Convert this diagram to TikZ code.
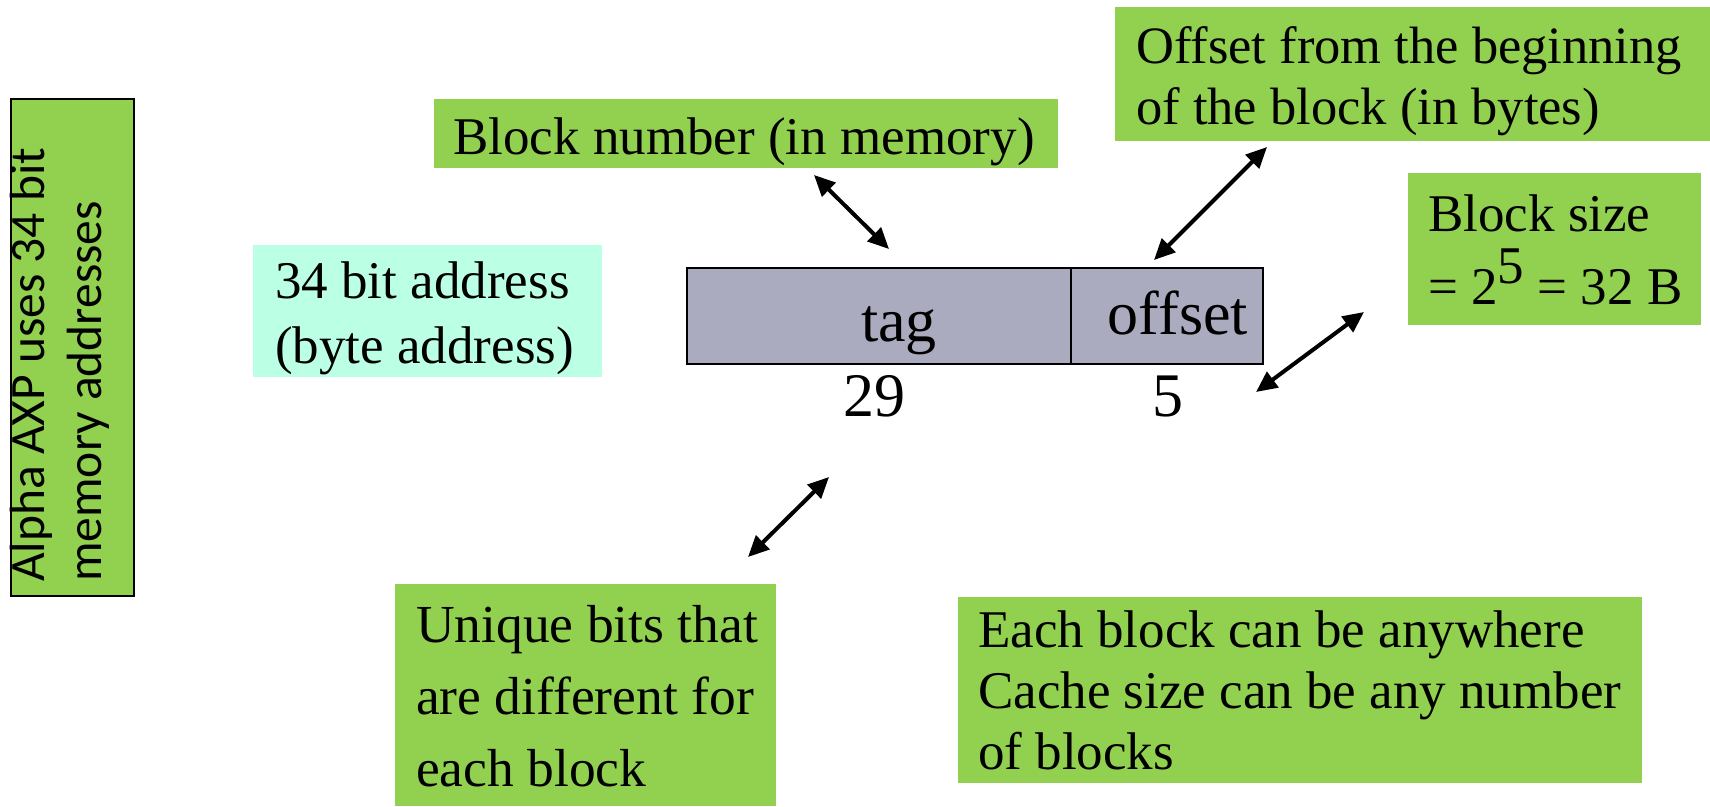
\documentclass[tikz,border=0pt]{standalone}
\usepackage{fontspec}
\setmainfont{Liberation Serif}
\newfontfamily\calibfont{Carlito}
\usetikzlibrary{arrows.meta}

\definecolor{notegreen}{RGB}{146,208,80}
\definecolor{notecyan}{RGB}{187,255,228}
\definecolor{fieldgray}{RGB}{171,171,191}

\tikzset{
  notebox/.style={fill=notegreen, draw=none, inner sep=0pt, anchor=north west},
  notetext/.style={inner sep=0pt, anchor=north west, align=left},
  field/.style={fill=fieldgray, draw=black, line width=2pt, inner sep=0pt},
  fieldtext/.style={inner sep=0pt, anchor=base, font=\fontsize{62}{70}\selectfont},
  sidetext/.style={inner sep=0pt, rotate=90, anchor=base west, font=\calibfont\fontsize{49.5}{56}\selectfont},
  dblarrow/.style={{Triangle[length=21pt,width=19pt]}-{Triangle[length=21pt,width=19pt]}, line width=4pt}
}

\begin{document}
\begin{tikzpicture}[x=1pt, y=-1pt]
\path[use as bounding box] (0,0) rectangle (1710,806);

% side note, rotated
\node[notebox, draw=black, line width=1.5pt, minimum width=123pt, minimum height=497pt] (side) at (10,98) {};
\node[sidetext] (sideA) at (44,582) {Alpha AXP uses 34 bit};
\node[sidetext] (sideB) at (101,582) {memory addresses};

% address note
\node[notebox, fill=notecyan, minimum width=349pt, minimum height=132pt] (addr) at (253,245) {};
\node[notetext, font=\fontsize{53}{65}\selectfont] (addrT) at (275,261.8) {34 bit address\\(byte address)};

% block number note
\node[notebox, minimum width=624pt, minimum height=69pt] (blknum) at (434,99) {};
\node[notetext, font=\fontsize{53}{62}\selectfont] (blknumT) at (453,117.5) {Block number (in memory)};

% offset note
\node[notebox, minimum width=595pt, minimum height=134pt] (offnote) at (1115,7) {};
\node[notetext, font=\fontsize{52.5}{61}\selectfont] (offnoteT) at (1136,26) {Offset from the beginning\\of the block (in bytes)};

% block size note
\node[notebox, minimum width=293pt, minimum height=152pt] (blksize) at (1408,173) {};
\node[notetext, font=\fontsize{53}{62}\selectfont] (blksizeT) at (1428,194.8)
  {Block size\\[11pt]= 2\raisebox{21pt}{5} = 32 B};

% address fields
\node[field, minimum width=384pt, minimum height=96pt] (tagf) at (879,316) {};
\node[field, minimum width=192pt, minimum height=96pt] (offf) at (1167,316) {};
\node[fieldtext] (tagT) at (899,341) {tag};
\node[fieldtext] (offT) at (1178,334) {offset};
\node[fieldtext] (tagN) at (874,416) {29};
\node[fieldtext] (offN) at (1168,416) {5};

% unique bits note
\node[notebox, minimum width=381pt, minimum height=222pt] (uniq) at (395,584) {};
\node[notetext, font=\fontsize{53.5}{72}\selectfont] (uniqT) at (416,605.5) {Unique bits that\\are different for\\each block};

% placement note
\node[notebox, minimum width=684pt, minimum height=186pt] (anyw) at (958,597) {};
\node[notetext, font=\fontsize{53}{61}\selectfont] (anywT) at (978,610.8) {Each block can be anywhere\\Cache size can be any number\\of blocks};

% arrow ends
\coordinate (bnTop) at (814,175);
\coordinate (bnBot) at (889,249);
\coordinate (ofTop) at (1267,147);
\coordinate (ofBot) at (1154,260);
\coordinate (bsTop) at (1364,312);
\coordinate (bsBot) at (1256,392);
\coordinate (ubTop) at (829,477);
\coordinate (ubBot) at (748,557);

\draw[dblarrow] (bnTop) -- (bnBot);
\draw[dblarrow] (ofTop) -- (ofBot);
\draw[dblarrow] (bsTop) -- (bsBot);
\draw[dblarrow] (ubTop) -- (ubBot);
\end{tikzpicture}
\end{document}
